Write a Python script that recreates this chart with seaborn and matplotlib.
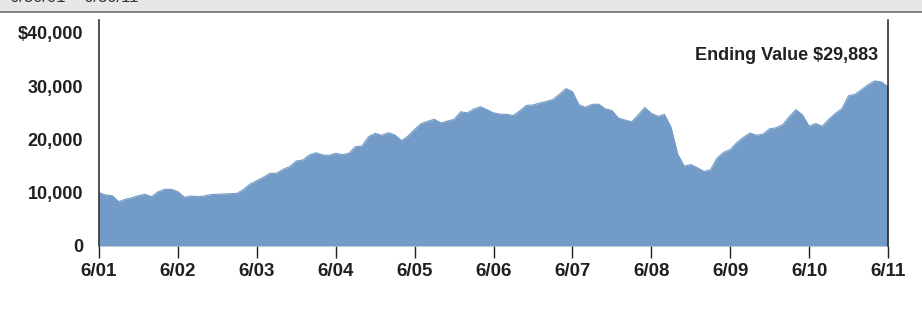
import matplotlib
matplotlib.use("Agg")
import matplotlib.pyplot as plt
import seaborn as sns
import pandas as pd

# Monthly growth of $10,000, 6/01 .. 6/11 (121 month-ends)
values = [
    10000, 9580, 9450, 8320, 8770, 9070, 9450, 9710, 9260, 10200, 10640, 10640,
    10200, 9140, 9390, 9260, 9390, 9640, 9710, 9770, 9830, 9890, 10640, 11640,
    12270, 12900, 13650, 13650, 14400, 14900, 15960, 16150, 17090, 17520, 17090, 17030,
    17400, 17150, 17400, 18650, 18780, 20530, 21160, 20790, 21280, 20850, 19780, 20660,
    21900, 23000, 23420, 23800, 23100, 23480, 23760, 25200, 25000, 25700, 26150, 25600,
    25000, 24750, 24730, 24500, 25400, 26400, 26470, 26850, 27120, 27500, 28450, 29550,
    29000, 26500, 26050, 26600, 26630, 25750, 25450, 24000, 23650, 23300, 24600, 26000,
    24900, 24350, 24700, 22300, 17300, 15000, 15300, 14700, 14000, 14300, 16500, 17600,
    18100, 19400, 20400, 21200, 20800, 21000, 22000, 22200, 22800, 24300, 25600, 24600,
    22500, 23000, 22500, 23800, 24900, 25800, 28200, 28500, 29400, 30300, 31000, 30800,
    29883,
]
months = list(range(len(values)))
tick_months = [0, 12, 24, 36, 48, 60, 72, 84, 96, 108, 120]
tick_labels = ["6/01", "6/02", "6/03", "6/04", "6/05", "6/06",
               "6/07", "6/08", "6/09", "6/10", "6/11"]
y_ticks = [0, 10000, 20000, 30000, 40000]
y_labels = ["0", "10,000", "20,000", "30,000", "$40,000"]
ending_label = "Ending Value $29,883"
period_label = "6/30/01 \u2013 6/30/11"

df = pd.DataFrame({"month": months, "value": values})

sns.set_theme(style="white")
plt.rcParams["font.family"] = ["Liberation Sans", "DejaVu Sans"]

fill_color = "#729bc7"
ink = "#231f20"

W, H = 922, 312
fig = plt.figure(figsize=(W / 100, H / 100), dpi=100)
ax = fig.add_axes([99 / W, (H - 246) / H, (888 - 99) / W, (246 - 20) / H])

ax.fill_between(df["month"], 0, df["value"], color=fill_color, linewidth=0)
sns.lineplot(data=df, x="month", y="value", ax=ax, color=fill_color, linewidth=0.8)

ax.set_xlim(0, 120)
ax.set_ylim(0, 42440)
ax.set_xticks(tick_months)
ax.set_xticklabels(tick_labels)
ax.set_yticks(y_ticks)
ax.set_yticklabels(y_labels)
ax.set_xlabel("")
ax.set_ylabel("")

for s in ["top", "bottom"]:
    ax.spines[s].set_visible(False)
for s in ["left", "right"]:
    ax.spines[s].set_visible(True)
    ax.spines[s].set_color(ink)
    ax.spines[s].set_linewidth(1.1)

ax.tick_params(axis="x", direction="out", length=8.6, width=1.0, color=ink,
               pad=3.5, labelsize=13.5, labelcolor=ink, bottom=True)
ax.tick_params(axis="y", length=0, pad=11.5, labelsize=13, labelcolor=ink, left=False)
for lab in ax.get_xticklabels() + ax.get_yticklabels():
    lab.set_fontweight("bold")
ax.grid(False)

fig.text(878 / W, 1 - 55 / H, ending_label, ha="right", va="center",
         fontsize=13, fontweight="bold", color=ink)

# Top grey band with the (cropped) period label, as in the reference
fig.patches.append(plt.Rectangle((0, 1 - 11.5 / H), 1, 11.5 / H, transform=fig.transFigure,
                                 facecolor="#e6e7e8", edgecolor="none", zorder=0))
fig.lines.append(plt.Line2D([0, 1], [1 - 12 / H, 1 - 12 / H], transform=fig.transFigure,
                            color="#6d6e71", linewidth=1.2))
fig.text(10 / W, 1 - 1.5 / H, period_label, ha="left", va="baseline",
         fontsize=12, color="#333333")

fig.savefig("out.png", dpi=100)
